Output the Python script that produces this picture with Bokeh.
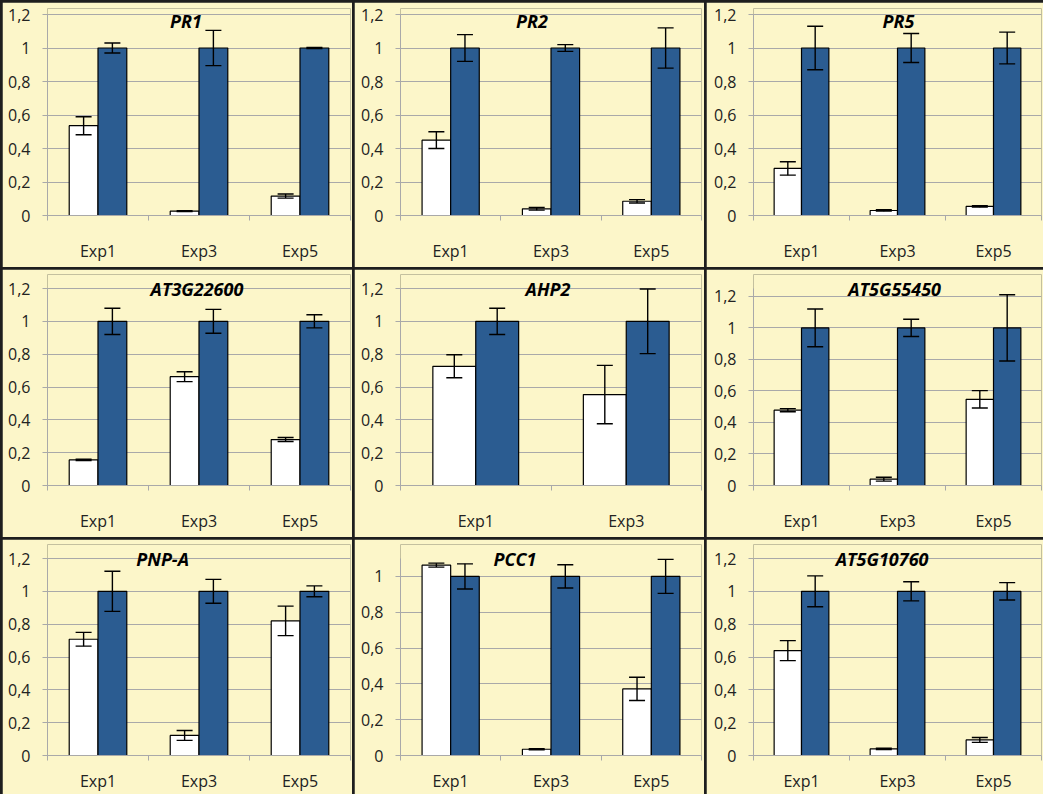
from bokeh.plotting import figure
from bokeh.layouts import gridplot
from bokeh.models import (ColumnDataSource, FixedTicker, CustomJSTickFormatter,
                          Whisker, TeeHead, Label, Range1d)
from bokeh.embed import file_html
from bokeh.resources import INLINE

# ---------------- data ----------------
cats3 = ["Exp1", "Exp3", "Exp5"]
cats2 = ["Exp1", "Exp3"]

titles = ["PR1", "PR2", "PR5", "AT3G22600", "AHP2", "AT5G55450", "PNP-A", "PCC1", "AT5G10760"]

pr1_ctrl = [0.536, 0.026, 0.116]
pr1_ctrl_err = [0.054, 0.003, 0.012]
pr1_trt = [1.0, 1.0, 1.0]
pr1_trt_err = [0.03, 0.105, 0.003]

pr2_ctrl = [0.45, 0.04, 0.085]
pr2_ctrl_err = [0.05, 0.008, 0.01]
pr2_trt = [1.0, 1.0, 1.0]
pr2_trt_err = [0.08, 0.02, 0.12]

pr5_ctrl = [0.281, 0.03, 0.054]
pr5_ctrl_err = [0.04, 0.004, 0.004]
pr5_trt = [1.0, 1.0, 1.0]
pr5_trt_err = [0.13, 0.087, 0.095]

at3g_ctrl = [0.156, 0.663, 0.28]
at3g_ctrl_err = [0.004, 0.03, 0.012]
at3g_trt = [1.0, 1.0, 1.0]
at3g_trt_err = [0.08, 0.073, 0.04]

ahp2_ctrl = [0.726, 0.554]
ahp2_ctrl_err = [0.07, 0.178]
ahp2_trt = [1.0, 1.0]
ahp2_trt_err = [0.08, 0.197]

at5g55_ctrl = [0.478, 0.04, 0.547]
at5g55_ctrl_err = [0.01, 0.012, 0.055]
at5g55_trt = [1.0, 1.0, 1.0]
at5g55_trt_err = [0.12, 0.055, 0.21]

pnpa_ctrl = [0.708, 0.122, 0.82]
pnpa_ctrl_err = [0.042, 0.03, 0.09]
pnpa_trt = [1.0, 1.0, 1.0]
pnpa_trt_err = [0.122, 0.073, 0.033]

pcc1_ctrl = [1.063, 0.035, 0.372]
pcc1_ctrl_err = [0.011, 0.003, 0.065]
pcc1_trt = [1.0, 1.0, 1.0]
pcc1_trt_err = [0.07, 0.065, 0.095]

at5g10_ctrl = [0.639, 0.04, 0.095]
at5g10_ctrl_err = [0.061, 0.004, 0.015]
at5g10_trt = [1.0, 1.0, 1.0]
at5g10_trt_err = [0.094, 0.058, 0.053]

y_tick_values = [0, 0.2, 0.4, 0.6, 0.8, 1, 1.2]
y_max = [1.2, 1.2, 1.2, 1.2, 1.2, 1.25, 1.2, 1.1, 1.2]

panels = [
    (cats3, pr1_ctrl, pr1_ctrl_err, pr1_trt, pr1_trt_err),
    (cats3, pr2_ctrl, pr2_ctrl_err, pr2_trt, pr2_trt_err),
    (cats3, pr5_ctrl, pr5_ctrl_err, pr5_trt, pr5_trt_err),
    (cats3, at3g_ctrl, at3g_ctrl_err, at3g_trt, at3g_trt_err),
    (cats2, ahp2_ctrl, ahp2_ctrl_err, ahp2_trt, ahp2_trt_err),
    (cats3, at5g55_ctrl, at5g55_ctrl_err, at5g55_trt, at5g55_trt_err),
    (cats3, pnpa_ctrl, pnpa_ctrl_err, pnpa_trt, pnpa_trt_err),
    (cats3, pcc1_ctrl, pcc1_ctrl_err, pcc1_trt, pcc1_trt_err),
    (cats3, at5g10_ctrl, at5g10_ctrl_err, at5g10_trt, at5g10_trt_err),
]

# ---------------- layout / style ----------------
title_pos = [1.37, 1.31, 1.51, 1.48, 0.98, 1.47, 1.14, 1.14, 1.34]  # in category units
title_dy = [-6, -6, -6, 0, 0, 0, 0, 0, 0]

col_w = [350, 350, 337]
row_h = [265, 268, 255]
border_left = [45, 46, 47]
border_right = [2, 3, 2]
plot_h = [201, 197, 197]        # height of the axis area (0 .. y_max)
head_room = [6, 14, 14]         # extra frame space above y_max for the titles
border_top = [6, 5, 5]
border_bottom = [52, 52, 39]
x_standoff = [19, 19, 9]

BG = "#FCF6C9"
BLUE = "#2B5C91"
GRID = "#A9A9A9"
FONT = "Open Sans"
TXT = "#222222"
BAR_W = 0.285

figs = []
for k, (cats, ctrl, ctrl_err, trt, trt_err) in enumerate(panels):
    r, c = divmod(k, 3)
    n = len(cats)
    y_end = y_max[k] * (plot_h[r] + head_room[r]) / plot_h[r]
    p = figure(width=col_w[c], height=row_h[r], output_backend="svg", toolbar_location=None,
               x_range=Range1d(0, n), y_range=Range1d(0, y_end),
               min_border_left=border_left[c], min_border_right=border_right[c],
               min_border_top=border_top[r], min_border_bottom=border_bottom[r])
    p.background_fill_color = BG
    p.border_fill_color = BG
    p.outline_line_color = None

    xs = list(range(n))
    src_c = ColumnDataSource(dict(x=[i + 0.5 - BAR_W / 2 for i in xs], top=ctrl,
                                  upper=[v + e for v, e in zip(ctrl, ctrl_err)],
                                  lower=[v - e for v, e in zip(ctrl, ctrl_err)]))
    src_t = ColumnDataSource(dict(x=[i + 0.5 + BAR_W / 2 for i in xs], top=trt,
                                  upper=[v + e for v, e in zip(trt, trt_err)],
                                  lower=[v - e for v, e in zip(trt, trt_err)]))
    p.vbar(x="x", top="top", bottom=0, width=BAR_W, source=src_c,
           fill_color="white", line_color="black", line_width=1.2)
    p.vbar(x="x", top="top", bottom=0, width=BAR_W, source=src_t,
           fill_color=BLUE, line_color="black", line_width=1.2)
    for src in (src_c, src_t):
        w = Whisker(source=src, base="x", upper="upper", lower="lower", dimension="height",
                    line_color="black", line_width=1.4, level="overlay",
                    upper_head=TeeHead(size=16, line_color="black", line_width=1.4),
                    lower_head=TeeHead(size=16, line_color="black", line_width=1.4))
        p.add_layout(w)

    # axes
    p.xaxis.ticker = FixedTicker(ticks=[i + 0.5 for i in xs], minor_ticks=list(range(n + 1)))
    p.xaxis.formatter = CustomJSTickFormatter(args=dict(labels=cats),
                                              code="return labels[Math.floor(tick)];")
    p.xaxis.major_tick_line_color = None
    p.xaxis.major_tick_out = 0
    p.xaxis.major_tick_in = 0
    p.xaxis.minor_tick_line_color = GRID
    p.xaxis.minor_tick_out = 5
    p.xaxis.minor_tick_in = 0
    p.xaxis.axis_line_color = GRID
    p.xaxis.major_label_standoff = x_standoff[r]

    p.yaxis.ticker = FixedTicker(ticks=y_tick_values)
    p.yaxis.formatter = CustomJSTickFormatter(
        code="var s = (Math.round(tick*10)/10).toString(); return s.replace('.', ',');")
    p.yaxis.bounds = (0, y_max[k])
    p.yaxis.major_tick_line_color = GRID
    p.yaxis.major_tick_out = 5
    p.yaxis.major_tick_in = 0
    p.yaxis.minor_tick_line_color = None
    p.yaxis.axis_line_color = GRID
    p.yaxis.major_label_standoff = 12

    for ax in (p.xaxis[0], p.yaxis[0]):
        ax.major_label_text_font = FONT
        ax.major_label_text_font_size = "16px"
        ax.major_label_text_color = TXT

    p.xgrid.grid_line_color = None
    p.ygrid.ticker = FixedTicker(ticks=y_tick_values)
    p.ygrid.grid_line_color = GRID
    p.ygrid.grid_line_width = 1

    p.add_layout(Label(x=title_pos[k], y=y_max[k], y_offset=title_dy[k], text=titles[k],
                       text_align="center", text_baseline="middle", text_font=FONT,
                       text_font_style="bold italic", text_font_size="18px",
                       text_color="black"))
    figs.append(p)

grid = gridplot(figs, ncols=3, toolbar_location=None)
grid.spacing = 2
grid.styles = {"background-color": "#1E1E1E", "padding-left": "2px", "padding-top": "2px"}

open("out.html", "w").write(file_html(grid, INLINE))
